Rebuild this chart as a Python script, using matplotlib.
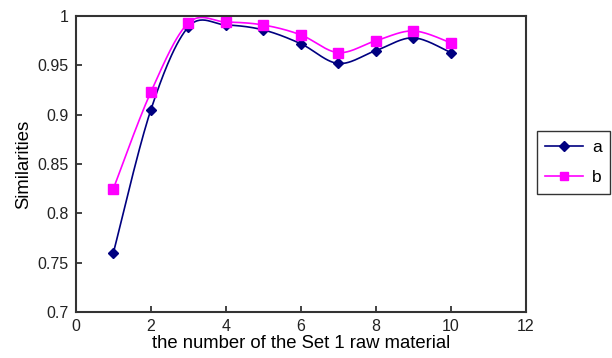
import numpy as np
import matplotlib
matplotlib.use('Agg')
import matplotlib.pyplot as plt

plt.rcParams['font.family'] = ['Liberation Sans', 'DejaVu Sans']

x = [1, 2, 3, 4, 5, 6, 7, 8, 9, 10]
a = [0.760, 0.905, 0.989, 0.991, 0.986, 0.972, 0.952, 0.965, 0.978, 0.963]
b = [0.825, 0.923, 0.993, 0.994, 0.991, 0.981, 0.963, 0.975, 0.985, 0.973]


def smooth(xs, ys, n=30):
    # bezier smoothing between points, like spreadsheet "smoothed line"
    xs = np.asarray(xs, float)
    ys = np.asarray(ys, float)
    px = np.concatenate([[xs[0]], xs, [xs[-1]]])
    py = np.concatenate([[ys[0]], ys, [ys[-1]]])
    outx, outy = [], []
    t = np.linspace(0, 1, n)
    for i in range(1, len(px) - 2):
        p0 = np.array([px[i], py[i]])
        p3 = np.array([px[i + 1], py[i + 1]])
        p1 = p0 + (np.array([px[i + 1], py[i + 1]]) - np.array([px[i - 1], py[i - 1]])) / 6
        p2 = p3 - (np.array([px[i + 2], py[i + 2]]) - np.array([px[i], py[i]])) / 6
        c = ((1 - t) ** 3)[:, None] * p0 + (3 * (1 - t) ** 2 * t)[:, None] * p1 \
            + (3 * (1 - t) * t ** 2)[:, None] * p2 + (t ** 3)[:, None] * p3
        outx.extend(c[:, 0])
        outy.extend(c[:, 1])
    return outx, outy


fig = plt.figure(figsize=(6.12, 3.58), dpi=100)
ax = fig.add_axes([0.124, 0.1285, 0.735, 0.8265])

navy = '#000080'
pink = '#ff00ff'

sx, sy = smooth(x, a)
ax.plot(sx, sy, color=navy, linewidth=1.2, clip_on=False)
sx, sy = smooth(x, b)
ax.plot(sx, sy, color=pink, linewidth=1.2, clip_on=False)
ax.plot(x, a, linestyle='none', marker='D', markersize=5.5, color=navy, clip_on=False)
ax.plot(x, b, linestyle='none', marker='s', markersize=6.5, color=pink, clip_on=False)

# legend handles with line + marker
ax.plot([], [], color=navy, linewidth=1.2, marker='D', markersize=5, label='a')
ax.plot([], [], color=pink, linewidth=1.2, marker='s', markersize=6, label='b')
handles, labels = ax.get_legend_handles_labels()
leg = ax.legend(handles, labels, loc='upper left', bbox_to_anchor=(1.024, 0.611),
                fontsize=12.5, frameon=True, fancybox=False, edgecolor='black',
                handlelength=2.2, handletextpad=0.5, borderpad=0.5,
                labelspacing=0.85, borderaxespad=0)
leg.get_frame().set_linewidth(1.0)

ax.set_xlim(0, 12)
ax.set_ylim(0.7, 1)
ax.set_xticks([0, 2, 4, 6, 8, 10, 12])
ax.set_yticks([0.7, 0.75, 0.8, 0.85, 0.9, 0.95, 1])
ax.set_yticklabels(['0.7', '0.75', '0.8', '0.85', '0.9', '0.95', '1'])
ax.tick_params(direction='in', length=4, width=1.2, labelsize=11.5, colors='#222222', pad=5)
for s in ax.spines.values():
    s.set_linewidth(1.5)
    s.set_color('#333333')

ax.set_xlabel('the number of the Set 1 raw material', fontsize=13.3, labelpad=1)
ax.set_ylabel('Similarities', fontsize=13.3, labelpad=4)

fig.savefig('out.png', dpi=100)
